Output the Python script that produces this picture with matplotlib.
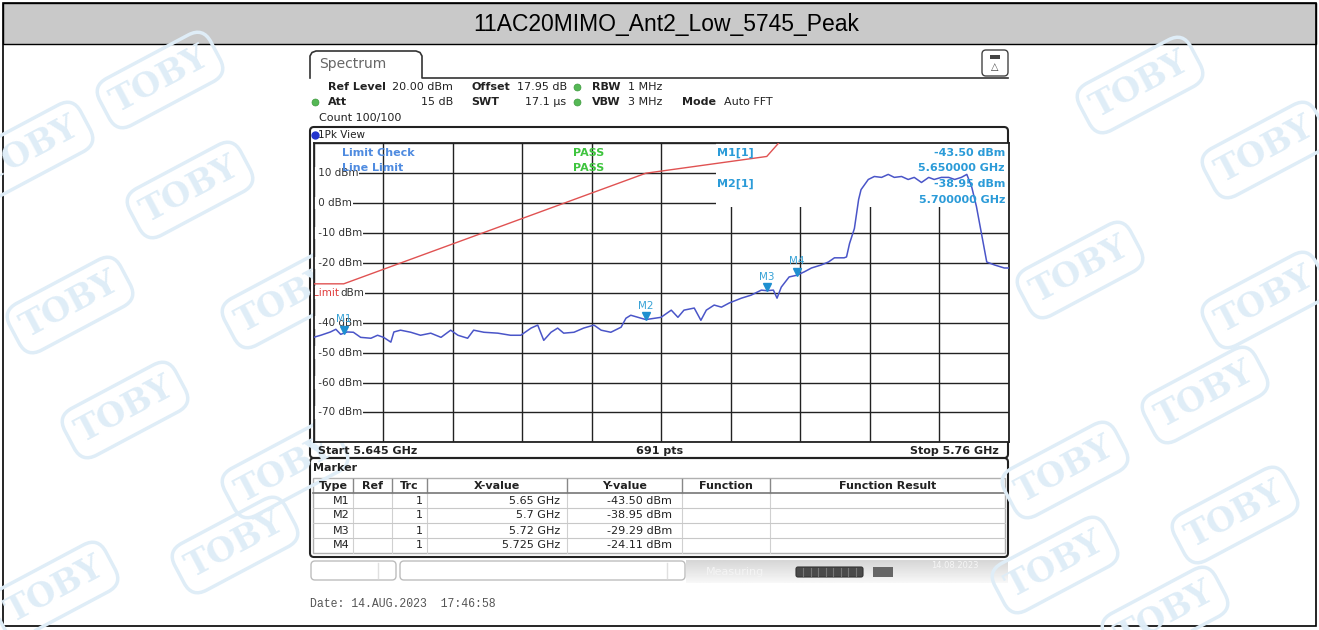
import numpy as np
import matplotlib
matplotlib.use('Agg')
import matplotlib.pyplot as plt
from matplotlib.patches import Rectangle, FancyBboxPatch
from matplotlib.transforms import offset_copy

TITLE = '11AC20MIMO_Ant2_Low_5745_Peak'
START_GHZ = 5.645
STOP_GHZ = 5.76
REF_DBM = 20.0
POINTS = 691

# peak trace (GHz, dBm)
trace_ghz = [
    5.6450, 5.6462, 5.6478, 5.6487, 5.6495, 5.6500, 5.6506, 5.6516, 5.6528, 5.6545,
    5.6556, 5.6566, 5.6578, 5.6583, 5.6594, 5.6611, 5.6627, 5.6644, 5.6661, 5.6677,
    5.6689, 5.6705, 5.6715, 5.6732, 5.6755, 5.6776, 5.6793, 5.6810, 5.6821, 5.6831,
    5.6843, 5.6854, 5.6864, 5.6881, 5.6897, 5.6914, 5.6926, 5.6942, 5.6959, 5.6967,
    5.6975, 5.6992, 5.7000, 5.7025, 5.7042, 5.7053, 5.7063, 5.7080, 5.7091, 5.7100,
    5.7113, 5.7125, 5.7138, 5.7158, 5.7174, 5.7191, 5.7200, 5.7211, 5.7217, 5.7224,
    5.7237, 5.7250, 5.7262, 5.7274, 5.7290, 5.7302, 5.7312, 5.7328, 5.7332, 5.7337,
    5.7345, 5.7352, 5.7356, 5.7368, 5.7378, 5.7390, 5.7401, 5.7411, 5.7423, 5.7434,
    5.7444, 5.7456, 5.7468, 5.7477, 5.7489, 5.7501, 5.7511, 5.7522, 5.7531, 5.7539,
    5.7547, 5.7555, 5.7564, 5.7577, 5.7593, 5.7600]
trace_dbm = [
    -44.9, -44.2, -43.1, -42.2, -43.9, -43.5, -43.1, -43.2, -44.9, -45.2,
    -44.2, -44.9, -46.5, -43.1, -42.5, -43.2, -44.2, -43.5, -44.9, -42.5,
    -44.2, -45.2, -42.5, -43.2, -43.5, -44.2, -44.2, -41.8, -40.8, -45.9,
    -43.2, -41.8, -43.5, -43.2, -41.8, -40.8, -42.5, -43.2, -41.5, -38.5,
    -37.5, -38.5, -38.95, -38.2, -35.8, -38.2, -35.8, -35.1, -39.2, -35.8,
    -34.1, -34.8, -33.4, -31.8, -30.8, -29.1, -29.29, -29.1, -31.8, -28.1,
    -24.7, -24.11, -23.0, -21.7, -20.7, -19.7, -18.3, -18.3, -18.0, -13.5,
    -8.5, 1.2, 4.5, 7.9, 8.9, 8.6, 9.6, 8.6, 8.9, 7.9,
    8.6, 6.9, 8.6, 7.9, 8.6, 8.6, 7.9, 8.6, 9.6, 5.5,
    -1.2, -9.9, -19.7, -20.7, -21.7, -21.7]

limit_ghz = [5.645, 5.650, 5.700, 5.720, 5.725, 5.760]
limit_dbm = [-27.0, -27.0, 10.0, 15.6, 27.0, 27.0]

marker_names = ['M1', 'M2', 'M3', 'M4']
marker_ghz = [5.65, 5.70, 5.72, 5.725]
marker_dbm = [-43.50, -38.95, -29.29, -24.11]
marker_xtext = ['5.65 GHz', '5.7 GHz', '5.72 GHz', '5.725 GHz']

level_labels = [10, 0, -10, -20, -40, -50, -60, -70]
limit_label_level = -30
table_headers = ['Type', 'Ref', 'Trc', 'X-value', 'Y-value', 'Function', 'Function Result']

W, H = 1319, 630
PX_L, PX_R, PX_T, PX_B = 313.5, 1008.5, 143.3, 442.3

INK = '#222222'
CYAN = '#2b9bd8'
MONO = 'DejaVu Sans'
WM = '#dfedf7'

fig = plt.figure(figsize=(W / 100, H / 100), dpi=100)
bg = fig.add_axes([0, 0, 1, 1])
bg.set_xlim(0, W)
bg.set_ylim(H, 0)
bg.axis('off')

# watermark behind the screenshot
wm_pos = [(160, 80), (30, 150), (190, 190), (285, 300), (70, 305), (125, 410), (285, 470),
          (235, 545), (55, 590), (1140, 85), (1265, 150), (1080, 270), (1265, 300),
          (1205, 395), (1065, 470), (1235, 515), (1055, 565), (1165, 615)]
for x, y in wm_pos:
    bg.text(x, y, 'TOBY', rotation=28, ha='center', va='center', fontsize=24,
            fontweight='bold', family='DejaVu Serif', color=WM,
            bbox=dict(boxstyle='round,pad=0.3,rounding_size=0.5', fc='none', ec=WM, lw=2.5))

# page frame and title bar
bg.add_patch(Rectangle((3, 3), 1313, 41, fc='#c9c9c9', ec='black', lw=1, zorder=2))
bg.add_patch(Rectangle((3, 3), 1313, 623, fill=False, ec='black', lw=1.2, zorder=2))
bg.text(666, 24, TITLE, ha='center', va='center', fontsize=16.5, family='Liberation Sans', zorder=3)

# instrument screen
bg.add_patch(Rectangle((306, 46), 706, 538, fc='white', ec='none'))
bg.plot([310, 310, 312, 316, 416, 420, 422, 422, 1008],
        [78, 56, 52.5, 51, 51, 52.5, 56, 78, 78], color='#333', lw=1.2)
bg.text(319, 64, 'Spectrum', fontsize=10, color='#666', va='center', family=MONO)
bg.add_patch(FancyBboxPatch((982, 50), 26, 26, boxstyle='round,pad=0,rounding_size=4',
                            fc='white', ec='#444', lw=1))
bg.add_patch(Rectangle((990, 55), 10, 3.5, fc='#444', ec='none'))
bg.text(995, 67, '\u25b3', fontsize=7, ha='center', va='center', color='#444')

hdr = dict(fontsize=8, va='center', family=MONO, color=INK)
bg.text(328, 86.5, 'Ref Level', fontweight='bold', **hdr)
bg.text(392, 86.5, '20.00 dBm', **hdr)
bg.text(471, 86.5, 'Offset', fontweight='bold', **hdr)
bg.text(517, 86.5, '17.95 dB', **hdr)
bg.text(592, 86.5, 'RBW', fontweight='bold', **hdr)
bg.text(628, 86.5, '1 MHz', **hdr)
bg.text(328, 102, 'Att', fontweight='bold', **hdr)
bg.text(453, 102, '15 dB', ha='right', **hdr)
bg.text(471, 102, 'SWT', fontweight='bold', **hdr)
bg.text(566, 102, '17.1 \u00b5s', ha='right', **hdr)
bg.text(592, 102, 'VBW', fontweight='bold', **hdr)
bg.text(628, 102, '3 MHz', **hdr)
bg.text(682, 102, 'Mode', fontweight='bold', **hdr)
bg.text(724, 102, 'Auto FFT', **hdr)
bg.text(319, 118, 'Count 100/100', **hdr)
bg.plot([577, 315, 577], [86.5, 102, 102], 'o', ms=5, color='#55b855', mec='#3f9a3f', mew=0.5)

# trace window frame
bg.add_patch(FancyBboxPatch((310, 127), 698, 331, boxstyle='round,pad=0,rounding_size=4',
                            fc='none', ec=INK, lw=1.5))
bg.plot([314.5], [135], 'o', ms=5, color='#2233cc')
bg.text(318, 135, '1Pk View', fontsize=7.5, va='center', color=INK, family=MONO)
bg.text(318, 451, f'Start {START_GHZ:g} GHz', fontweight='bold', **hdr)
bg.text(660, 451, f'{POINTS} pts', fontweight='bold', ha='center', **hdr)
bg.text(999, 451, f'Stop {STOP_GHZ:g} GHz', fontweight='bold', ha='right', **hdr)

# marker table
bg.add_patch(FancyBboxPatch((310, 458), 698, 99, boxstyle='round,pad=0,rounding_size=4',
                            fc='none', ec=INK, lw=1.5))
bg.text(313, 468, 'Marker', fontweight='bold', **hdr)
cols = [313, 353, 392, 427, 567, 682, 770, 1005]
rows = [478, 493, 508, 523, 538, 553]
bg.add_patch(Rectangle((cols[0], rows[0]), cols[-1] - cols[0], rows[-1] - rows[0],
                       fc='none', ec='#b0b0b0', lw=1))
for x in cols[1:-1]:
    bg.plot([x, x], [rows[0] + 1, rows[1]], color='#888', lw=1)
    bg.plot([x, x], [rows[1], rows[-1]], color='#d0d0d0', lw=0.8)
bg.plot([cols[0], cols[-1]], [rows[1], rows[1]], color='#777', lw=1.2)
for y in rows[2:-1]:
    bg.plot([cols[0], cols[-1]], [y, y], color='#c8c8c8', lw=0.8)
for i, name in enumerate(table_headers):
    bg.text((cols[i] + cols[i + 1]) / 2, 486, name, ha='center', fontweight='bold', **hdr)
for r, name in enumerate(marker_names):
    yc = (rows[r + 1] + rows[r + 2]) / 2
    bg.text(350, yc, name, ha='right', **hdr)
    bg.text(423, yc, '1', ha='right', **hdr)
    bg.text(560, yc, marker_xtext[r], ha='right', **hdr)
    bg.text(672, yc, f'{marker_dbm[r]:.2f} dBm', ha='right', **hdr)

# status bar under the screen
for x0, x1, xd in [(311, 396, 378), (400, 685, 667)]:
    bg.add_patch(FancyBboxPatch((x0, 561), x1 - x0, 19, boxstyle='round,pad=0,rounding_size=4',
                                fc='white', ec='#bdbdbd', lw=1))
    bg.plot([xd, xd], [563, 578], color='#e0e0e0', lw=1)
grad = np.linspace(0.84, 0.97, 20).reshape(-1, 1)
bg.imshow(grad, cmap='gray', vmin=0, vmax=1, extent=(686, 1008, 583, 560), aspect='auto', zorder=1.5)
bg.set_xlim(0, W)
bg.set_ylim(H, 0)
bg.text(735, 572, 'Measuring', fontsize=8, ha='center', va='center', color='#f4f4f4', family=MONO, zorder=2)
bg.add_patch(FancyBboxPatch((796, 567), 67, 10, boxstyle='round,pad=0,rounding_size=2',
                            fc='#4a4a4a', ec='#333', lw=0.8, zorder=2))
for x in np.arange(803, 860, 7.5):
    bg.plot([x, x], [568, 576], color='#777', lw=0.8, zorder=2.1)
bg.add_patch(Rectangle((873, 567), 20, 10, fc='#666', ec='none', zorder=2))
bg.text(955, 566, '14.08.2023', fontsize=6, ha='center', va='center', color='#f6f6f6', family=MONO, zorder=2)
bg.text(310, 604, 'Date: 14.AUG.2023  17:46:58', fontsize=8.3, va='center', color='#555',
        family='Liberation Mono')

# spectrum plot
ax = fig.add_axes([PX_L / W, 1 - PX_B / H, (PX_R - PX_L) / W, (PX_B - PX_T) / H])
ax.set_xlim(START_GHZ, STOP_GHZ)
ax.set_ylim(REF_DBM - 100, REF_DBM)
ax.set_xticks(np.linspace(START_GHZ, STOP_GHZ, 11))
ax.set_yticks(np.arange(REF_DBM - 100, REF_DBM + 1, 10))
ax.tick_params(length=0, labelbottom=False, labelleft=False)
ax.set_axisbelow(True)
ax.grid(True, color=INK, lw=1.0)
for s in ax.spines.values():
    s.set_color(INK)
    s.set_linewidth(1.3)


def at(px, py):
    return ((px - PX_L) / (PX_R - PX_L), (PX_B - py) / (PX_B - PX_T))


# marker readout box hides the grid behind it
bx, by = at(716, 207)
ax.add_patch(Rectangle((bx, by), 1 - bx, 1 - by, transform=ax.transAxes, fc='white', ec='none', zorder=1))

ytr = ax.get_yaxis_transform()
lbl = dict(ha='left', va='center', fontsize=7.5, family=MONO, zorder=2)
for v in level_labels:
    ax.text(0.0015, v, f' {v} dBm', transform=ytr, color='#333',
            bbox=dict(fc='white', ec='none', pad=1.0), **lbl)
lim_txt = ax.text(-0.001, limit_label_level, 'Limit', transform=ytr, color='#e03c3c',
                  bbox=dict(fc='white', ec='none', pad=1.0), **lbl)
ax.annotate('dBm', xy=(1, 0.5), xycoords=lim_txt, xytext=(1, 0), textcoords='offset points',
            color='#333', bbox=dict(fc='white', ec='none', pad=1.0), **lbl)

ax.plot(limit_ghz, limit_dbm, color='#e05252', lw=1.0, zorder=3)
ax.plot(trace_ghz, trace_dbm, color='#4a55c8', lw=1.1, zorder=4)

tri = offset_copy(ax.transData, fig=fig, y=3.5, units='dots')
ax.plot(marker_ghz, marker_dbm, 'v', ms=6, color='#1e8fd0', transform=tri, zorder=5)
for name, f, v in zip(marker_names, marker_ghz, marker_dbm):
    ax.annotate(name, (f, v), xytext=(0, 14), textcoords='offset pixels', ha='center',
                va='center', fontsize=7.5, color='#38a2d6', family=MONO, zorder=6)

bold = dict(fontsize=8, fontweight='bold', va='center', family=MONO, transform=ax.transAxes, zorder=6)
ax.text(*at(342, 153), 'Limit Check', color='#4f8be0', **bold)
ax.text(*at(342, 168), 'Line Limit', color='#4f8be0', **bold)
ax.text(*at(573, 153), 'PASS', color='#3ec43e', **bold)
ax.text(*at(573, 168), 'PASS', color='#3ec43e', **bold)
ax.text(*at(717, 153), 'M1[1]', color=CYAN, **bold)
ax.text(*at(717, 184), 'M2[1]', color=CYAN, **bold)
ax.text(*at(1005, 153), f'{marker_dbm[0]:.2f} dBm', color=CYAN, ha='right', **bold)
ax.text(*at(1005, 168), f'{marker_ghz[0]:.6f} GHz', color=CYAN, ha='right', **bold)
ax.text(*at(1005, 184), f'{marker_dbm[1]:.2f} dBm', color=CYAN, ha='right', **bold)
ax.text(*at(1005, 200), f'{marker_ghz[1]:.6f} GHz', color=CYAN, ha='right', **bold)

fig.savefig('out.png', dpi=100)
